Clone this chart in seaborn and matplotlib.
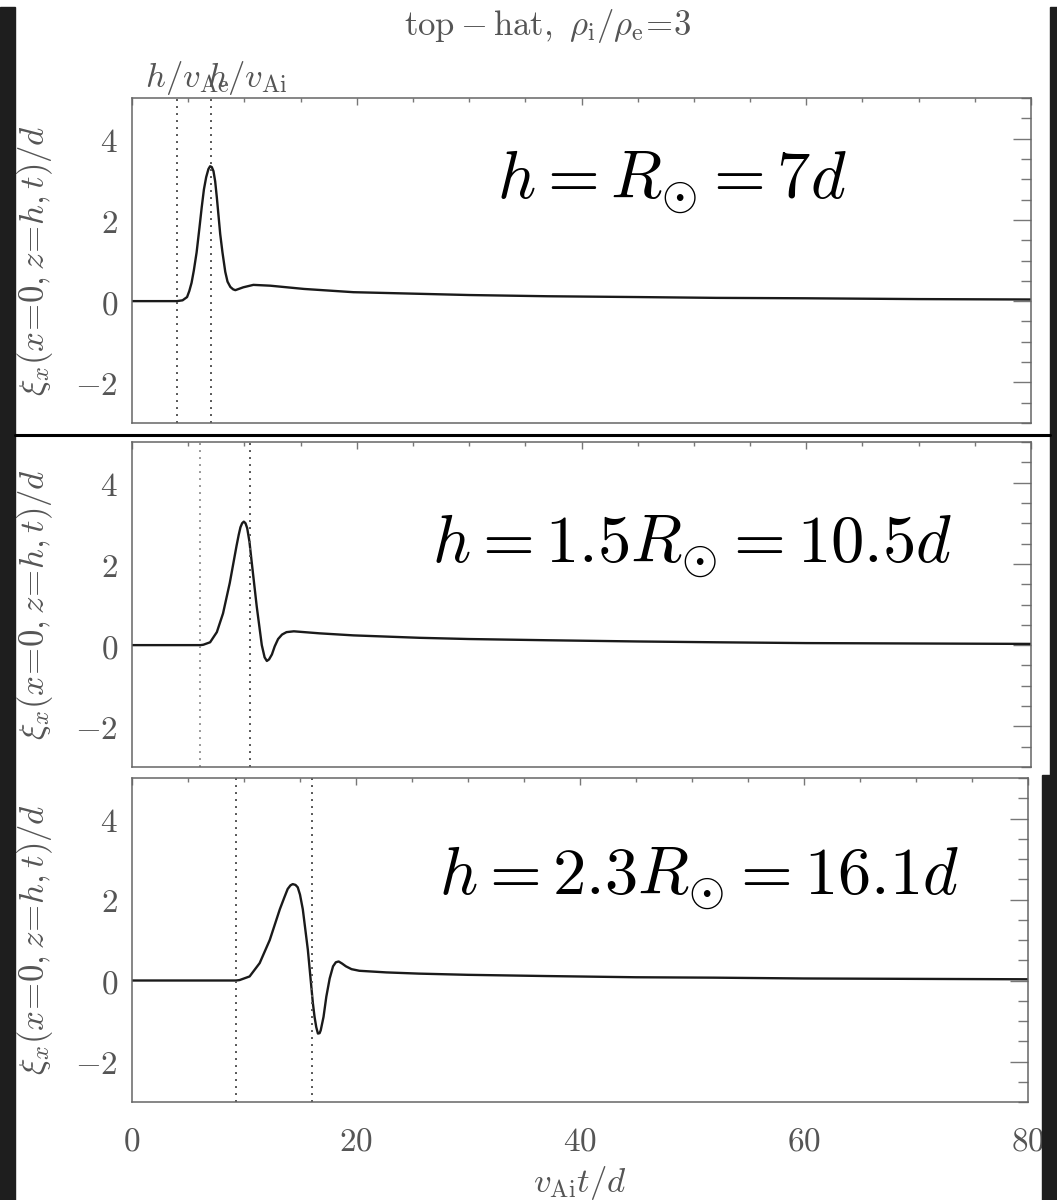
import numpy as np
import pandas as pd
import matplotlib
matplotlib.use("Agg")
import matplotlib.pyplot as plt
import seaborn as sns
from matplotlib.ticker import MultipleLocator, FixedLocator, FixedFormatter, NullFormatter
from matplotlib.patches import Rectangle
from matplotlib.lines import Line2D

# ---------------- data ----------------
t_p1 = [0, 4.0, 4.5, 4.9, 5.1, 5.3, 5.5, 5.75, 6.0, 6.2, 6.4, 6.6, 6.8, 6.95, 7.1, 7.25,
        7.4, 7.55, 7.7, 7.85, 8.05, 8.3, 8.5, 8.75, 9.0, 9.2, 9.5, 9.9, 10.8, 12.3, 15.3,
        19.7, 25.6, 30, 37, 45, 52, 60, 70, 80]
xi_p1 = [0, 0, 0.02, 0.1, 0.25, 0.45, 0.75, 1.2, 1.8, 2.3, 2.75, 3.05, 3.25, 3.32, 3.3, 3.2,
         2.95, 2.55, 2.1, 1.65, 1.2, 0.72, 0.48, 0.35, 0.29, 0.27, 0.30, 0.34, 0.40, 0.38,
         0.30, 0.22, 0.18, 0.15, 0.12, 0.10, 0.08, 0.07, 0.05, 0.04]

t_p2 = [0, 6.1, 6.35, 6.95, 7.55, 8.1, 8.7, 9.3, 9.5, 9.65, 9.8, 9.95, 10.1, 10.25, 10.45,
        10.65, 11.1, 11.55, 11.8, 12.0, 12.2, 12.45, 12.7, 13.0, 13.35, 13.75, 14.4, 16.7,
        19.7, 25.6, 30, 37, 45, 52, 60, 70, 80]
xi_p2 = [0, 0, 0.01, 0.07, 0.32, 0.78, 1.53, 2.44, 2.72, 2.9, 3.0, 3.04, 3.0, 2.88, 2.55,
         2.05, 0.95, 0.0, -0.3, -0.39, -0.35, -0.23, -0.03, 0.15, 0.26, 0.32, 0.34, 0.29,
         0.24, 0.18, 0.15, 0.12, 0.09, 0.07, 0.05, 0.04, 0.03]

t_p3 = [0, 9.3, 9.6, 10.5, 11.4, 12.3, 13.2, 13.6, 13.9, 14.15, 14.35, 14.6, 14.8, 15.0,
        15.25, 15.7, 16.15, 16.3, 16.45, 16.6, 16.75, 16.85, 17.1, 17.35, 17.65, 17.95,
        18.2, 18.45, 18.75, 19.1, 19.6, 20.3, 22.7, 25.6, 30, 37, 45, 52, 60, 70, 80]
xi_p3 = [0, 0, 0.01, 0.1, 0.43, 1.0, 1.76, 2.05, 2.26, 2.35, 2.38, 2.36, 2.3, 2.12,
         1.76, 0.76, -0.56, -0.9, -1.15, -1.31, -1.3, -1.23, -0.9, -0.4, 0.05, 0.35,
         0.45, 0.47, 0.42, 0.35, 0.28, 0.24, 0.2, 0.17, 0.14, 0.11, 0.08, 0.07, 0.05,
         0.04, 0.03]

t_Ae = [4.04, 6.06, 9.3]     # h / v_Ae
t_Ai = [7.0, 10.5, 16.1]     # h / v_Ai
panel_labels = [r'$h=R_{\odot}=7d$', r'$h=1.5R_{\odot}=10.5d$', r'$h=2.3R_{\odot}=16.1d$']
label_pos = [(32.5, 2.52), (26.7, 2.03), (27.4, 2.12)]
x_ticks = [0, 20, 40, 60, 80]
x_ticklabels = [r'$0$', r'$20$', r'$40$', r'$60$', r'$80$']
y_ticks = [-2, 0, 2, 4]
y_ticklabels = [r'$-2$', r'$0$', r'$2$', r'$4$']
title = r'$\mathrm{top}-\mathrm{hat},\ \rho_{\mathrm{i}}/\rho_{\mathrm{e}}\!=\!3$'
ylabel = r'$\xi_x(x\!=\!0,z\!=\!h,t)/d$'
xlabel = r'$v_{\mathrm{Ai}}t/d$'

curves = [(t_p1, xi_p1), (t_p2, xi_p2), (t_p3, xi_p3)]

# ---------------- style ----------------
sns.set_theme(style="white")
plt.rcParams['mathtext.fontset'] = 'cm'
plt.rcParams['font.family'] = ['DejaVu Sans']
plt.rcParams['axes.unicode_minus'] = True

W, H = 1057, 1200
fig = plt.figure(figsize=(W / 100, H / 100), dpi=100)
fig.patch.set_facecolor('white')

def fx(px):
    return px / W

def fy(py):
    return 1 - py / H

rects = [
    [fx(132), fy(423), fx(1031) - fx(132), fy(98) - fy(423)],
    [fx(132), fy(767), fx(1031) - fx(132), fy(442) - fy(767)],
    [fx(132), fy(1102), fx(1028) - fx(132), fy(778) - fy(1102)],
]

grey = '#555555'
for i, (rect, (tt, xx)) in enumerate(zip(rects, curves)):
    ax = fig.add_axes(rect)
    df = pd.DataFrame({'t': tt, 'xi': xx})
    sns.lineplot(data=df, x='t', y='xi', ax=ax, color='#1a1a1a', lw=1.7,
                 errorbar=None, sort=False)
    vcol = '#999999' if i == 1 else '#555555'
    ax.axvline(t_Ae[i], color=vcol, lw=1.4, ls=(0, (1, 2.6)))
    ax.axvline(t_Ai[i], color='#555555', lw=1.4, ls=(0, (1, 2.6)))
    ax.set_xlim(0, 80)
    ax.set_ylim(-3, 5)
    ax.xaxis.set_major_locator(FixedLocator(x_ticks))
    ax.xaxis.set_minor_locator(MultipleLocator(5))
    ax.yaxis.set_major_locator(FixedLocator(y_ticks))
    ax.yaxis.set_minor_locator(MultipleLocator(0.5))
    ax.yaxis.set_major_formatter(FixedFormatter(y_ticklabels))
    if i == 2:
        ax.xaxis.set_major_formatter(FixedFormatter(x_ticklabels))
        ax.set_xlabel(xlabel, fontsize=25, color=grey)
        ax.xaxis.set_label_coords(0.5, -0.19)
    else:
        ax.xaxis.set_major_formatter(NullFormatter())
        ax.set_xlabel('')
    ax.set_ylabel(ylabel, fontsize=25, color=grey)
    ax.yaxis.set_label_coords(-0.086, 0.5)
    ax.tick_params(which='both', direction='in', top=True, right=True,
                   colors='#777777', labelcolor=grey, width=1.0)
    ax.tick_params(axis='y', which='major', length=13, pad=10, labelsize=24)
    ax.tick_params(axis='y', which='minor', length=7)
    ax.tick_params(axis='x', which='major', length=5, pad=16, labelsize=24)
    ax.tick_params(axis='x', which='minor', length=3)
    for s in ax.spines.values():
        s.set_color('#666666')
        s.set_linewidth(1.1)
    ax.text(label_pos[i][0], label_pos[i][1], panel_labels[i], fontsize=48,
            color='black', ha='left', va='baseline')
    if i == 0:
        ax.text(1.16, 1.035, r'$h/v_{\mathrm{Ae}}$', transform=ax.get_xaxis_transform(),
                fontsize=25, color=grey, ha='left', va='baseline')
        ax.text(6.7, 1.035, r'$h/v_{\mathrm{Ai}}$', transform=ax.get_xaxis_transform(),
                fontsize=25, color=grey, ha='left', va='baseline')

fig.text(fx(548), fy(26), title, fontsize=25, color=grey, ha='center', va='center')

# decorative frame pieces of the composite image
fig.add_artist(Rectangle((0, 0), fx(15), fy(7), transform=fig.transFigure,
                         color='#1e1e1e', zorder=10))
fig.add_artist(Rectangle((fx(1050), fy(775)), fx(7), fy(7) - fy(775),
                         transform=fig.transFigure, color='#1e1e1e', zorder=10))
fig.add_artist(Rectangle((fx(1042), 0), fx(15), fy(775),
                         transform=fig.transFigure, color='#1e1e1e', zorder=10))
fig.add_artist(Line2D([fx(15), fx(1050)], [fy(434.5), fy(434.5)],
                      transform=fig.transFigure, color='black', lw=2.2, zorder=10))

fig.savefig('out.png', dpi=100, facecolor='white')
